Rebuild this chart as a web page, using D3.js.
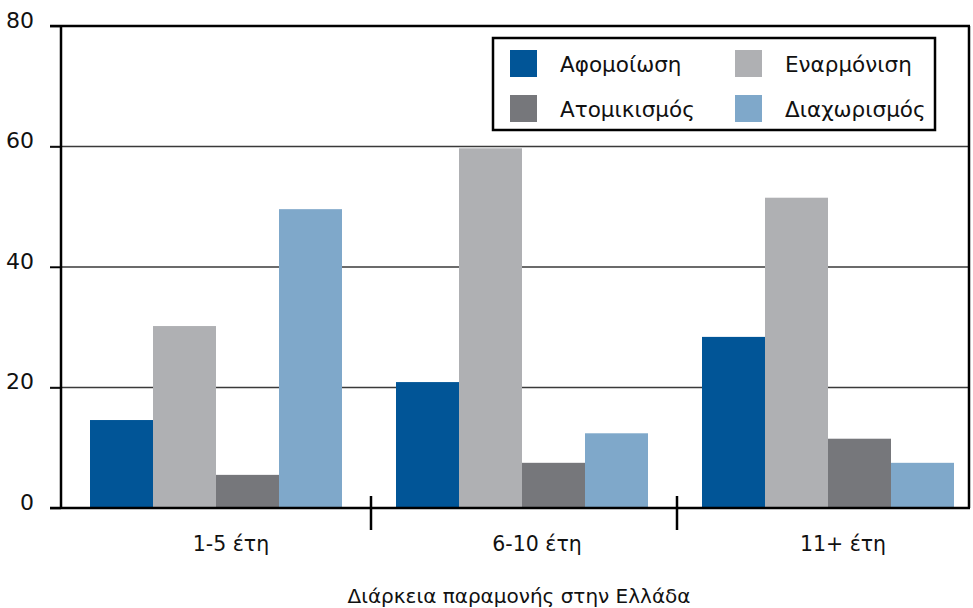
<!DOCTYPE html>
<html>
<head>
<meta charset="utf-8">
<script src="https://cdn.jsdelivr.net/npm/d3@7"></script>
<style>
  body { margin: 0; background: #fff; }
  svg { display: block; font-family: "DejaVu Sans", Verdana, sans-serif; }
</style>
</head>
<body>
<svg id="chart" width="973" height="608"></svg>
<script>
// Duration of stay groups
const categories = ["1-5 έτη", "6-10 έτη", "11+ έτη"];
// Acculturation strategies (series)
const seriesNames = ["Αφομοίωση", "Εναρμόνιση", "Ατομικισμός", "Διαχωρισμός"];
const seriesColors = ["#015597", "#afb0b3", "#76777b", "#7fa8ca"];
// Percentages per category, one array per series
const assimilation = [14.6, 20.9, 28.4];
const integration  = [30.2, 59.7, 51.5];
const individualism = [5.5, 7.5, 11.5];
const separation   = [49.6, 12.4, 7.5];
const yTicks = [0, 20, 40, 60, 80];
const xTitle = "Διάρκεια παραμονής στην Ελλάδα";

const seriesValues = [assimilation, integration, individualism, separation];

const svg = d3.select("#chart");
const plotLeft = 61, plotRight = 969, plotTop = 26, plotBottom = 508;

const y = d3.scaleLinear().domain([0, 80]).range([plotBottom, plotTop]);
const x0 = d3.scaleBand().domain(categories).range([65, 983]).padding(0);
const x1 = d3.scaleBand().domain(seriesNames).range([25, 277]).padding(0);

// horizontal grid lines
svg.append("g").selectAll("line")
  .data(yTicks.filter(t => t > 0 && t < 80))
  .join("line")
  .attr("x1", 50).attr("x2", plotRight)
  .attr("y1", d => y(d)).attr("y2", d => y(d))
  .attr("stroke", "#3a3a3a").attr("stroke-width", 1.5);

// bars
const groups = svg.append("g").selectAll("g")
  .data(categories)
  .join("g")
  .attr("transform", d => `translate(${x0(d)},0)`);

groups.selectAll("rect")
  .data((d, i) => seriesNames.map((s, j) => ({ s, v: seriesValues[j][i], c: seriesColors[j] })))
  .join("rect")
  .attr("x", d => x1(d.s))
  .attr("width", x1.bandwidth())
  .attr("y", d => y(d.v))
  .attr("height", d => y(0) - y(d.v))
  .attr("fill", d => d.c);

// frame: top and right edges
svg.append("line").attr("x1", 50).attr("x2", plotRight + 1).attr("y1", plotTop).attr("y2", plotTop)
  .attr("stroke", "#000").attr("stroke-width", 2.5);
svg.append("line").attr("x1", plotRight).attr("x2", plotRight).attr("y1", plotTop).attr("y2", plotBottom)
  .attr("stroke", "#000").attr("stroke-width", 2.5);

// y axis
const yAxis = d3.axisLeft(y).tickValues(yTicks).tickSize(11).tickPadding(16);
const yg = svg.append("g").attr("transform", `translate(${plotLeft},0)`).call(yAxis);
yg.select(".domain").attr("stroke", "#000").attr("stroke-width", 2.5)
  .attr("d", `M0,${plotTop}V${plotBottom}`);
yg.selectAll(".tick line").attr("stroke", "#000").attr("stroke-width", 1.5);
yg.selectAll(".tick text").attr("font-size", 22).attr("fill", "#111")
  .attr("font-family", "DejaVu Sans, sans-serif").attr("dy", "0.05em");

// x axis baseline
svg.append("line").attr("x1", 50).attr("x2", plotRight + 1).attr("y1", plotBottom).attr("y2", plotBottom)
  .attr("stroke", "#000").attr("stroke-width", 2.5);

// category separators
svg.append("g").selectAll("line")
  .data(categories.slice(1))
  .join("line")
  .attr("x1", d => x0(d)).attr("x2", d => x0(d))
  .attr("y1", plotBottom - 12).attr("y2", plotBottom + 22)
  .attr("stroke", "#000").attr("stroke-width", 2.5);

// category labels
svg.append("g").selectAll("text")
  .data(categories)
  .join("text")
  .attr("x", d => x0(d) + x0.bandwidth() / 2 + 13)
  .attr("y", 551)
  .attr("text-anchor", "middle")
  .attr("font-size", 20.5)
  .attr("fill", "#111")
  .text(d => d);

// x axis title
svg.append("text")
  .attr("x", 519).attr("y", 603)
  .attr("text-anchor", "middle")
  .attr("font-size", 20)
  .attr("fill", "#111")
  .text(xTitle);

// legend
const legend = svg.append("g");
legend.append("rect")
  .attr("x", 493).attr("y", 38).attr("width", 442).attr("height", 92)
  .attr("fill", "#fff").attr("stroke", "#000").attr("stroke-width", 2.5);
const legendItems = legend.selectAll("g")
  .data(seriesNames)
  .join("g")
  .attr("transform", (d, i) => `translate(${510 + (i % 2) * 225},${50 + Math.floor(i / 2) * 45})`);
legendItems.append("rect")
  .attr("width", 27).attr("height", 27)
  .attr("fill", (d, i) => seriesColors[i]);
legendItems.append("text")
  .attr("x", 50)
  .attr("y", 22)
  .attr("font-size", 21.5)
  .attr("fill", "#111")
  .text(d => d);
</script>
</body>
</html>
